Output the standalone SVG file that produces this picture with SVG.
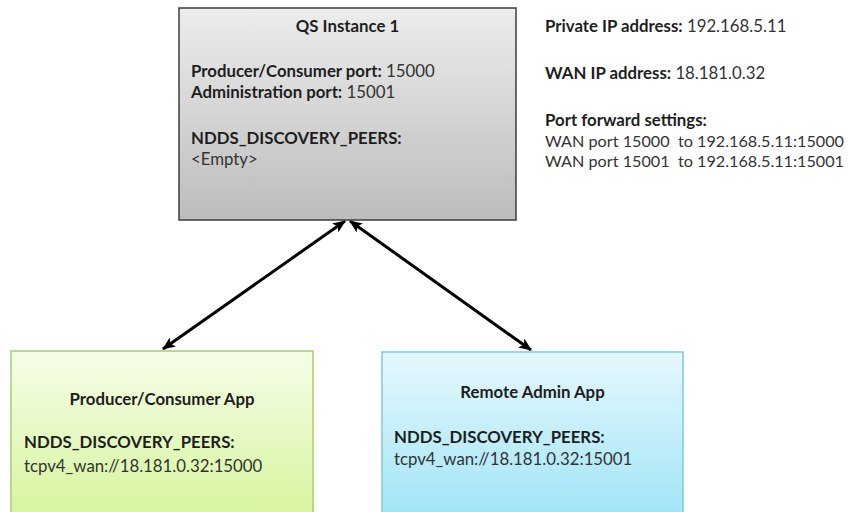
<svg xmlns="http://www.w3.org/2000/svg" width="850" height="512" viewBox="0 0 850 512">
<defs>
<linearGradient id="gGray" x1="0" y1="0" x2="0" y2="1">
<stop offset="0" stop-color="#ededed"/>
<stop offset="1" stop-color="#bcbcbc"/>
</linearGradient>
<linearGradient id="gGreen" x1="0" y1="0" x2="0" y2="1">
<stop offset="0" stop-color="#f5fde8"/>
<stop offset="1" stop-color="#d6f59c"/>
</linearGradient>
<linearGradient id="gBlue" x1="0" y1="0" x2="0" y2="1">
<stop offset="0" stop-color="#e6f8fd"/>
<stop offset="1" stop-color="#9fe4f6"/>
</linearGradient>
<marker id="arr" viewBox="0 0 13 11" refX="12" refY="5.5" markerWidth="13" markerHeight="11" markerUnits="userSpaceOnUse" orient="auto-start-reverse">
<path d="M0,0 L13,5.5 L0,11 L3,5.5 Z" fill="#000"/>
</marker>
</defs>
<style>
text{font-family:Lato,"Liberation Sans",sans-serif;font-size:16.8px;fill:#333;white-space:pre}
.b{font-weight:bold;fill:#1e1e1e}
.c{text-anchor:middle}
.s{font-size:16.2px}
.edge{stroke:#000;stroke-width:3;fill:none}
</style>
<rect width="850" height="512" fill="#fff"/>
<g id="connectors">
<line class="edge" x1="345" y1="221" x2="163" y2="349" marker-start="url(#arr)" marker-end="url(#arr)"/>
<line class="edge" x1="350" y1="221" x2="531" y2="350" marker-start="url(#arr)" marker-end="url(#arr)"/>
</g>
<g id="qs-instance">
<rect x="179" y="8" width="337" height="212" fill="url(#gGray)" stroke="#3c3c3c" stroke-width="1.5"/>
<text class="b c" x="347.5" y="32">QS Instance 1</text>
<text x="191" y="77"><tspan class="b">Producer/Consumer port:</tspan> 15000</text>
<text x="191" y="98"><tspan class="b">Administration port:</tspan> 15001</text>
<text class="b" x="191" y="144">NDDS_DISCOVERY_PEERS:</text>
<text x="191" y="165">&lt;Empty&gt;</text>
</g>
<g id="network-info">
<text x="545" y="32"><tspan class="b">Private IP address:</tspan> 192.168.5.11</text>
<text x="545" y="79"><tspan class="b">WAN IP address:</tspan> 18.181.0.32</text>
<text class="b" x="545" y="126">Port forward settings:</text>
<text class="s" x="545" y="147" xml:space="preserve" textLength="299" lengthAdjust="spacingAndGlyphs">WAN port 15000  to 192.168.5.11:15000</text>
<text class="s" x="545" y="167" xml:space="preserve" textLength="299" lengthAdjust="spacingAndGlyphs">WAN port 15001  to 192.168.5.11:15001</text>
</g>
<g id="producer-consumer-app">
<rect x="11" y="351" width="302" height="170" fill="url(#gGreen)" stroke="#aacd6e" stroke-width="1.5"/>
<text class="b c" x="162" y="405">Producer/Consumer App</text>
<text class="b" x="24" y="448">NDDS_DISCOVERY_PEERS:</text>
<text x="24" y="472">tcpv4_wan://18.181.0.32:15000</text>
</g>
<g id="remote-admin-app">
<rect x="382" y="352" width="301" height="170" fill="url(#gBlue)" stroke="#7ccadf" stroke-width="1.5"/>
<text class="b c" x="532.5" y="398">Remote Admin App</text>
<text class="b" x="394" y="443">NDDS_DISCOVERY_PEERS:</text>
<text x="394" y="465">tcpv4_wan://18.181.0.32:15001</text>
</g>
</svg>
